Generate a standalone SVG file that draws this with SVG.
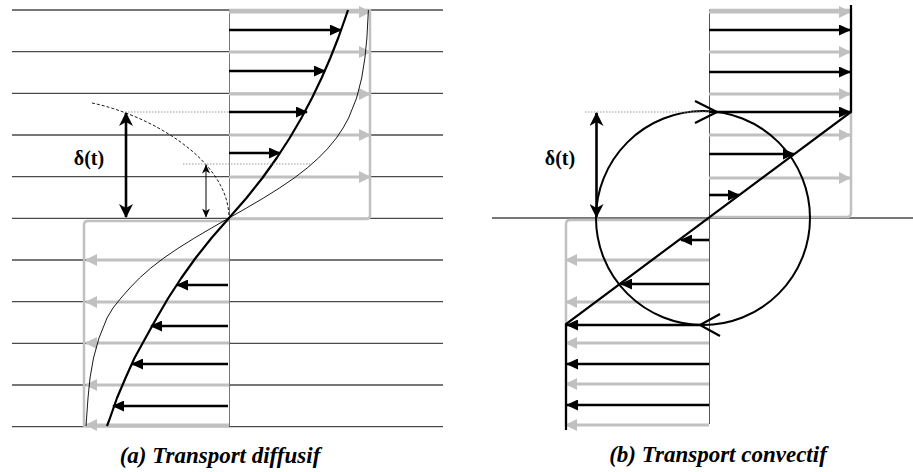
<svg xmlns="http://www.w3.org/2000/svg" width="913" height="472" viewBox="0 0 913 472">
<style>
.grid{stroke:#4a4a4a;stroke-width:1.3;fill:none}
.axis{stroke:#777;stroke-width:1;fill:none}
.box{stroke:#c0c0c0;stroke-width:2.5;fill:none}
.ga{stroke:#c0c0c0;stroke-width:3;fill:none;marker-end:url(#gh)}
.ba{stroke:#000;stroke-width:2.6;fill:none;marker-end:url(#bh)}
.dot{stroke:#999;stroke-width:1;stroke-dasharray:1.5 1.5;fill:none}
.prof{stroke:#000;stroke-width:2.2;fill:none;stroke-linejoin:round}
</style>
<defs>
<marker id="bh" viewBox="0 0 12 11" refX="11" refY="5.5" markerWidth="12" markerHeight="11" markerUnits="userSpaceOnUse" orient="auto-start-reverse"><path d="M0,0 L12,5.5 L0,11 z" fill="#000"/></marker>
<marker id="gh" viewBox="0 0 12 12" refX="11" refY="6" markerWidth="12" markerHeight="12" markerUnits="userSpaceOnUse" orient="auto-start-reverse"><path d="M0,0 L12,6 L0,12 z" fill="#c0c0c0"/></marker>
<marker id="dh" viewBox="0 0 14 14" refX="13" refY="7" markerWidth="14" markerHeight="14" markerUnits="userSpaceOnUse" orient="auto-start-reverse"><path d="M0,0 L14,7 L0,14 L4,7 z" fill="#000"/></marker>
<marker id="sh" viewBox="0 0 9 8" refX="8.5" refY="4" markerWidth="9" markerHeight="8" markerUnits="userSpaceOnUse" orient="auto-start-reverse"><path d="M0,0 L9,4 L0,8 L2.5,4 z" fill="#000"/></marker>
</defs>
<rect width="913" height="472" fill="#fff"/>

<!-- Panel (a) -->
<g id="panel-a">
  <g id="a-grid">
    <line class="grid" x1="12" y1="10" x2="443" y2="10"/>
    <line class="grid" x1="12" y1="51.6" x2="443" y2="51.6"/>
    <line class="grid" x1="12" y1="93.3" x2="443" y2="93.3"/>
    <line class="grid" x1="12" y1="135" x2="443" y2="135"/>
    <line class="grid" x1="12" y1="176.6" x2="443" y2="176.6"/>
    <line class="grid" x1="12" y1="218.3" x2="443" y2="218.3"/>
    <line class="grid" x1="12" y1="260" x2="443" y2="260"/>
    <line class="grid" x1="12" y1="301.6" x2="443" y2="301.6"/>
    <line class="grid" x1="12" y1="343.3" x2="443" y2="343.3"/>
    <line class="grid" x1="12" y1="385" x2="443" y2="385"/>
    <line class="grid" x1="12" y1="426.6" x2="443" y2="426.6"/>
  </g>
  <g id="a-boxes">
    <path class="box" d="M229,10 H370 V215 Q370,219 366,219 H229"/>
    <path class="box" d="M229,221 H88 Q84,221 84,225 V426 H229"/>
    <line class="axis" x1="229.5" y1="10" x2="229.5" y2="426"/>
  </g>
  <g id="a-gray-arrows">
    <line class="ga" x1="229" y1="12" x2="370" y2="12"/>
    <line class="ga" x1="229" y1="52" x2="370" y2="52"/>
    <line class="ga" x1="229" y1="94" x2="370" y2="94"/>
    <line class="ga" x1="229" y1="135" x2="370" y2="135"/>
    <line class="ga" x1="229" y1="177" x2="370" y2="177"/>
    <line class="ga" x1="229" y1="260" x2="86" y2="260"/>
    <line class="ga" x1="229" y1="302" x2="86" y2="302"/>
    <line class="ga" x1="229" y1="343" x2="86" y2="343"/>
    <line class="ga" x1="229" y1="385" x2="86" y2="385"/>
    <line class="ga" x1="229" y1="425" x2="86" y2="425"/>
  </g>
  <g id="a-black-arrows">
    <line class="ba" x1="229" y1="30" x2="341" y2="30"/>
    <line class="ba" x1="229" y1="71" x2="325" y2="71"/>
    <line class="ba" x1="229" y1="112" x2="307" y2="112"/>
    <line class="ba" x1="229" y1="153" x2="280" y2="153"/>
    <line class="ba" x1="228" y1="285" x2="177" y2="285"/>
    <line class="ba" x1="228" y1="326" x2="151" y2="326"/>
    <line class="ba" x1="228" y1="364" x2="132" y2="364"/>
    <line class="ba" x1="228" y1="406" x2="113" y2="406"/>
  </g>
  <g id="a-profiles">
    <polyline class="prof" points="348,10 345.3,18 338.2,38 330.3,58 321.6,78 312,98 301.4,118 289.7,138 276.7,158 262.4,178 246.5,198 229,218 211.5,238 195.6,258 181.3,278 168.3,298 156.6,318 145.5,338 134.5,358 125.5,378 117,398 110,418 107,426"/>
    <polyline fill="none" stroke="#000" stroke-width="0.9" stroke-linejoin="round" points="368.4,10 366.9,38 364.9,58 361.7,78 356.6,98 348.6,118 343.1,128 336.4,138 328.2,148 318.5,158 307.2,168 294.2,178 279.5,188 263.5,198 246.5,208 229,218 211.5,228 194.5,238 178.5,248 163.8,258 150.8,268 139.5,278 129.8,288 121,298 113,308 107,318 99,338 93.5,358 90,378 88,398 86,426"/>
    <path d="M92,103 C150,115 229,160 229,218" fill="none" stroke="#000" stroke-width="0.9" stroke-dasharray="3 2"/>
  </g>
  <g id="a-delta">
    <line class="dot" x1="125" y1="112" x2="229" y2="112"/>
    <line class="dot" x1="183" y1="164" x2="310" y2="164"/>
    <line x1="126" y1="113" x2="126" y2="217" stroke="#000" stroke-width="2.6" marker-start="url(#dh)" marker-end="url(#dh)"/>
    <line x1="206" y1="165" x2="206" y2="217" stroke="#000" stroke-width="1" marker-start="url(#sh)" marker-end="url(#sh)"/>
    <text x="89" y="165" font-family="'Liberation Serif'" font-weight="bold" font-size="20" text-anchor="middle">δ(t)</text>
  </g>
  <text id="caption-a" x="220" y="463" font-family="'Liberation Serif'" font-weight="bold" font-style="italic" font-size="23" text-anchor="middle">(a) Transport diffusif</text>
</g>

<!-- Panel (b) -->
<g id="panel-b">
  <g id="b-grid">
    <line class="grid" x1="492" y1="218" x2="913" y2="218"/>
  </g>
  <g id="b-boxes">
    <path class="box" d="M709,10 H851 V213 Q851,217 847,217 H709"/>
    <path class="box" d="M709,220 H570 Q566,220 566,224 V426"/>
    <line x1="709.5" y1="10" x2="709.5" y2="424" stroke="#555" stroke-width="1"/>
  </g>
  <g id="b-gray-arrows">
    <line class="ga" x1="709" y1="12" x2="850" y2="12"/>
    <line class="ga" x1="709" y1="52" x2="850" y2="52"/>
    <line class="ga" x1="709" y1="94" x2="850" y2="94"/>
    <line class="ga" x1="709" y1="135" x2="850" y2="135"/>
    <line class="ga" x1="709" y1="178" x2="850" y2="178"/>
    <line class="ga" x1="709" y1="260" x2="566" y2="260"/>
    <line class="ga" x1="709" y1="302" x2="566" y2="302"/>
    <line class="ga" x1="709" y1="343" x2="566" y2="343"/>
    <line class="ga" x1="709" y1="384" x2="566" y2="384"/>
    <line class="ga" x1="709" y1="425" x2="566" y2="425"/>
  </g>
  <g id="b-profile">
    <polyline points="851,5 851,112 566,324 566,430" fill="none" stroke="#000" stroke-width="2.2" stroke-linejoin="miter"/>
  </g>
  <g id="b-black-arrows">
    <line class="ba" x1="709" y1="30" x2="850" y2="30"/>
    <line class="ba" x1="709" y1="72" x2="850" y2="72"/>
    <line class="ba" x1="709" y1="112" x2="850" y2="112"/>
    <line class="ba" x1="709" y1="154" x2="794" y2="154"/>
    <line class="ba" x1="709" y1="195" x2="739" y2="195"/>
    <line class="ba" x1="709" y1="240" x2="681" y2="240"/>
    <line class="ba" x1="709" y1="284" x2="621" y2="284"/>
    <line class="ba" x1="700" y1="325" x2="567" y2="325"/>
    <line class="ba" x1="709" y1="364" x2="567" y2="364"/>
    <line class="ba" x1="709" y1="405" x2="567" y2="405"/>
  </g>
  <g id="b-eddy">
    <circle cx="703" cy="218" r="107" fill="none" stroke="#000" stroke-width="2"/>
    <polyline points="695,101 717,112 695,123" fill="none" stroke="#000" stroke-width="2.2"/>
    <polyline points="720,314 700,325 720,336" fill="none" stroke="#000" stroke-width="2.2"/>
  </g>
  <g id="b-delta">
    <line class="dot" x1="585" y1="112" x2="709" y2="112"/>
    <line x1="596.5" y1="113" x2="596.5" y2="217" stroke="#000" stroke-width="2.6" marker-start="url(#dh)" marker-end="url(#dh)"/>
    <text x="560" y="165" font-family="'Liberation Serif'" font-weight="bold" font-size="20" text-anchor="middle">δ(t)</text>
  </g>
  <text id="caption-b" x="718" y="462" font-family="'Liberation Serif'" font-weight="bold" font-style="italic" font-size="23" text-anchor="middle">(b) Transport convectif</text>
</g>
</svg>
